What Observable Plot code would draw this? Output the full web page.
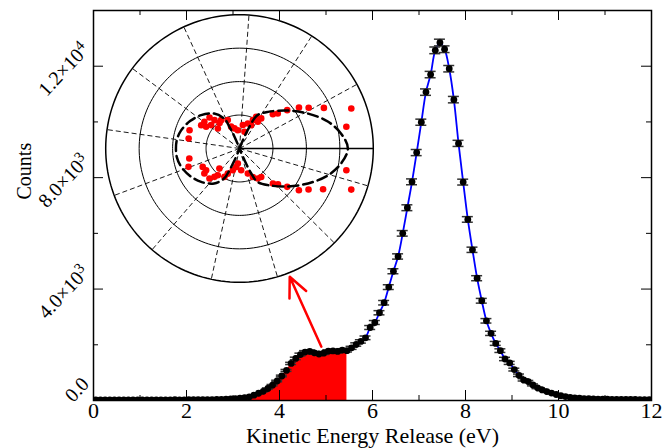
<!DOCTYPE html>
<html><head><meta charset="utf-8">
<script src="https://cdn.jsdelivr.net/npm/d3@7"></script>
<script src="https://cdn.jsdelivr.net/npm/@observablehq/plot@0.6"></script>
<style>
html,body{margin:0;padding:0;background:#fff;}
#wrap{position:relative;width:663px;height:448px;overflow:hidden;}
#inset{position:absolute;left:103px;top:12px;}
</style></head><body>
<div id="wrap"><div id="main"></div><div id="inset"></div></div>
<script>
// ---------- main spectrum ----------
const energy = [
0.05,0.15,0.25,0.35,0.45,0.55,0.65,0.75,0.85,0.95,
1.05,1.15,1.25,1.35,1.45,1.55,1.65,1.75,1.85,1.95,
2.05,2.15,2.25,2.35,2.45,2.55,2.65,2.75,2.85,2.95,
3.05,3.15,3.25,3.35,3.45,3.55,3.65,3.75,3.85,3.95,
4.05,4.15,4.25,4.35,4.45,4.55,4.65,4.75,4.85,4.95,
5.05,5.15,5.25,5.35,5.45,5.55,5.65,5.75,5.85,5.95,
6.05,6.15,6.25,6.35,6.45,6.55,6.65,6.75,6.85,6.95,
7.05,7.15,7.25,7.35,7.45,7.55,7.65,7.75,7.85,7.95,
8.05,8.15,8.25,8.35,8.45,8.55,8.65,8.75,8.85,8.95,
9.05,9.15,9.25,9.35,9.45,9.55,9.65,9.75,9.85,9.95,
10.05,10.15,10.25,10.35,10.45,10.55,10.65,10.75,10.85,10.95,
11.05,11.15,11.25,11.35,11.45,11.55,11.65,11.75,11.85,11.95];
const counts = [
26,25,24,26,25,24,25,26,24,25,
24,25,24,26,25,24,25,27,26,25,
27,27,29,30,31,33,37,42,50,58,
68,82,100,130,190,260,330,430,550,700,
880,1080,1330,1510,1650,1740,1765,1710,1670,1700,
1770,1780,1760,1810,1790,1890,2010,2120,2250,2620,
2800,3150,3510,4070,4640,5170,6000,6920,7850,8900,
9990,11070,11700,12570,12850,12610,11910,10800,9230,7840,
6500,5410,4390,3580,2860,2410,2050,1790,1490,1350,
1110,905,740,680,560,455,380,320,265,215,
175,140,115,95,80,70,62,56,52,48,
45,43,41,40,38,37,36,35,34,33];
const errors = [
5,5,5,5,5,5,5,5,5,5,
5,5,5,5,5,5,5,5,5,5,
5,5,5,5,5,5,5,5,5,5,
10,10,12,12,15,18,20,22,25,28,
30,35,40,45,50,50,50,50,50,50,
50,50,50,50,50,55,60,60,65,70,
70,75,80,85,90,95,100,105,105,110,
110,115,115,120,120,120,115,115,110,105,
100,95,90,85,80,75,70,65,60,55,
50,45,40,40,35,30,28,25,22,20,
15,15,15,15,15,15,15,15,15,15,
10,10,10,10,10,10,10,10,10,10];
const fillRange = [2.55, 5.45];  // eV, red shaded region
const fitRange = [5.45, 9.65];   // eV, blue fit curve
const xMajor = [0,2,4,6,8,10,12];
const xMinor = [1,3,5,7,9,11];
const yMajor = [0,4000,8000,12000];
const yMinor = [2000,6000,10000];
const yTickLabels = ["0.0","4.0×10^3","8.0×10^3","1.2×10^4"];
const arrowTail = [4.9, 1930];
const arrowTip = [4.22, 4440];
const xLabel = "Kinetic Energy Release (eV)";
const yLabel = "Counts";

// ---------- inset polar plot ----------
const ringRadii = [1,2,3,4];
const spokeAngles = [0.5,1,1.5,2,2.5,3,3.5,4,4.5,5,5.5,6]; // radians, dashed
const axisAngle = 0; // solid spoke
const dotAngle = [19.7,11.5,25.7,30.5,34.6,38.8,42.4,45.8,54.2,62.2,64.8,71.6,81.9,95.2,104,111,112.4,122.9,131.4,134,142.7,147,148.7,140.5,137.3,159.9,168.8,127.9,63.4,55.5,73.3,
 -35.1,-30.7,-20.2,-11.5,-38.8,-42.9,-46.4,-52.6,-58.6,-64.8,-71.6,-85.6,-96.3,-100.3,-107.1,-115,-129.1,-131.4,-135,-144.5,-153.4,-147,-168.7,-160.2,-135,-117.9,-26];
const dotRadius = [3.55,3.26,2.80,2.40,2.16,1.83,1.55,1.43,1.11,1.07,0.94,0.79,0.71,0.55,0.62,0.70,0.92,1.01,1.13,1.29,1.32,1.19,1.34,1.10,0.88,1.59,1.55,0.97,0.78,0.97,0.52,
 2.17,2.40,3.56,3.26,1.83,1.57,1.45,1.07,1.05,0.94,0.79,0.65,0.45,0.56,0.68,0.83,1.03,1.13,1.27,1.29,1.23,1.19,1.53,1.62,0.85,0.96,2.78];
const curveAngle = [0,8,17,27,38,52,62,65,67,69,90,111,113,115,117,126,139,151,163,172,
 180,188,197,209,221,234,243,245,247,249,270,291,293,295,298,308,322,333,343,352];
const curveRadius = [3.24,3.08,2.76,2.30,1.84,1.39,1.12,0.8,0.4,0.05,0,0.05,0.4,0.75,1.0,1.29,1.52,1.69,1.83,1.89,
 1.90,1.89,1.83,1.69,1.52,1.29,1.0,0.75,0.4,0.05,0,0.05,0.4,0.8,1.12,1.39,1.84,2.30,2.76,3.08];

const FONT = "Liberation Serif, Times New Roman, serif";
const W = 663, H = 448, mL = 93, mR = 12, mT = 10, mB = 48;
const xDom = [0, 12], yDom = [0, 14000];
const xPerPx = (xDom[1]-xDom[0])/(W-mL-mR);
const yPerPx = (yDom[1]-yDom[0])/(H-mT-mB);
const majorLen = 10, minorLen = 5, capHalf = 5.5;

const pts = energy.map((e,i)=>({e, c: counts[i], err: errors[i]}));
const fillPts = pts.filter(d=>d.e>=fillRange[0]-1e-9 && d.e<=fillRange[1]+1e-9);
const fitPts = pts.filter(d=>d.e>=fitRange[0]-1e-9 && d.e<=fitRange[1]+1e-9);

const main = Plot.plot({
  width: W, height: H, marginLeft: mL, marginRight: mR, marginTop: mT, marginBottom: mB,
  x: {domain: xDom, axis: null}, y: {domain: yDom, axis: null},
  style: {fontFamily: FONT, fontSize: "20px", background: "white", color: "black"},
  marks: [
    Plot.areaY(fillPts, {x: "e", y: "c", fill: "#ff0000"}),
    Plot.line(fitPts, {x: "e", y: "c", stroke: "#0000ff", strokeWidth: 1.8, curve: "catmull-rom"}),
    Plot.ruleX(pts, {x: "e", y1: d=>d.c-d.err, y2: d=>d.c+d.err, stroke: "#222", strokeWidth: 1.2, clip: true}),
    Plot.ruleY(pts, {y: d=>d.c+d.err, x1: d=>d.e-capHalf*xPerPx, x2: d=>d.e+capHalf*xPerPx, stroke: "#333", strokeWidth: 1.5, clip: true}),
    Plot.ruleY(pts, {y: d=>d.c-d.err, x1: d=>d.e-capHalf*xPerPx, x2: d=>d.e+capHalf*xPerPx, stroke: "#333", strokeWidth: 1.5, clip: true}),
    Plot.dot(pts, {x: "e", y: "c", r: 3.4, fill: "black", stroke: "none", clip: true}),
    Plot.arrow([0], {x1: arrowTail[0], y1: arrowTail[1], x2: arrowTip[0], y2: arrowTip[1], stroke: "#ff0000", strokeWidth: 2.5, headLength: 13, headAngle: 50}),
    // inward ticks: bottom & top
    Plot.ruleX(xMajor, {x: d=>d, y1: yDom[0], y2: yDom[0]+majorLen*yPerPx, stroke: "black", strokeWidth: 1}),
    Plot.ruleX(xMinor, {x: d=>d, y1: yDom[0], y2: yDom[0]+minorLen*yPerPx, stroke: "black", strokeWidth: 1}),
    Plot.ruleX(xMajor, {x: d=>d, y1: yDom[1], y2: yDom[1]-majorLen*yPerPx, stroke: "black", strokeWidth: 1}),
    Plot.ruleX(xMinor, {x: d=>d, y1: yDom[1], y2: yDom[1]-minorLen*yPerPx, stroke: "black", strokeWidth: 1}),
    // inward ticks: left & right
    Plot.ruleY(yMajor, {y: d=>d, x1: xDom[0], x2: xDom[0]+majorLen*xPerPx, stroke: "black", strokeWidth: 1}),
    Plot.ruleY(yMinor, {y: d=>d, x1: xDom[0], x2: xDom[0]+minorLen*xPerPx, stroke: "black", strokeWidth: 1}),
    Plot.ruleY(yMajor, {y: d=>d, x1: xDom[1], x2: xDom[1]-majorLen*xPerPx, stroke: "black", strokeWidth: 1}),
    Plot.ruleY(yMinor, {y: d=>d, x1: xDom[1], x2: xDom[1]-minorLen*xPerPx, stroke: "black", strokeWidth: 1}),
    Plot.frame({stroke: "black", strokeWidth: 1.5}),
    // tick labels
    Plot.text(xMajor, {x: d=>d, y: yDom[0], text: d=>String(d), lineAnchor: "top", dy: 2, fontSize: 22, fill: "black"}),
    Plot.text(yMajor, {x: xDom[0], y: d=>d, text: (d,i)=>yTickLabels[i], rotate: -47, textAnchor: "end", lineAnchor: "middle", dx: -8, dy: -20, fontSize: 20, fill: "black"}),
    // axis titles
    Plot.text([xLabel], {frameAnchor: "bottom", text: d=>d, lineAnchor: "top", dy: 27, fontSize: 22, fill: "black"}),
    Plot.text([yLabel], {frameAnchor: "left", text: d=>d, rotate: -90, lineAnchor: "middle", dx: -69, dy: -6, fontSize: 20, fill: "black"})
  ]
});
// superscripts
d3.select(main).selectAll("text").each(function(){
  const t = this.textContent;
  if (t.includes("^")) {
    const [base, exp] = t.split("^");
    const sel = d3.select(this);
    sel.text(base);
    sel.append("tspan").attr("font-size", "0.75em").attr("dy", "-0.45em").text(exp);
  }
});
document.getElementById("main").appendChild(main);

// inset
const R = 4, HALF = 136, unitPx = 33.45, ext = HALF/unitPx;
const rad = a => a*Math.PI/180;
const ringPts = ringRadii.flatMap(r => d3.range(0, 361, 2).map(a => ({r, x: r*Math.cos(rad(a)), y: r*Math.sin(rad(a))})));
const spokes = spokeAngles.map(a => ({x: R*Math.cos(a), y: R*Math.sin(a)}));
const dots = dotAngle.map((a,i)=>({x: dotRadius[i]*Math.cos(rad(a)), y: dotRadius[i]*Math.sin(rad(a))}));
const curvePts = curveAngle.map((a,i)=>({x: curveRadius[i]*Math.cos(rad(a)), y: curveRadius[i]*Math.sin(rad(a))}));
const inset = Plot.plot({
  width: 2*HALF, height: 2*HALF, margin: 0,
  x: {domain: [-ext, ext], axis: null}, y: {domain: [-ext, ext], axis: null},
  style: {background: "transparent", overflow: "visible"},
  marks: [
    Plot.line(ringPts.filter(d=>d.r<R), {x: "x", y: "y", z: "r", stroke: "black", strokeWidth: 1}),
    Plot.line(ringPts.filter(d=>d.r===R), {x: "x", y: "y", stroke: "black", strokeWidth: 1.5}),
    Plot.link(spokes, {x1: 0, y1: 0, x2: "x", y2: "y", stroke: "black", strokeWidth: 0.9, strokeDasharray: "5,3"}),
    Plot.link([0], {x1: 0, y1: 0, x2: R*Math.cos(axisAngle), y2: R*Math.sin(axisAngle), stroke: "black", strokeWidth: 1.3}),
    Plot.dot(dots, {x: "x", y: "y", r: 3.3, fill: "#ff0000", stroke: "none"}),
    Plot.line(curvePts, {x: "x", y: "y", curve: "catmull-rom-closed", stroke: "black", strokeWidth: 2.5, strokeDasharray: "10,5"})
  ]
});
document.getElementById("inset").appendChild(inset);
</script></body></html>
